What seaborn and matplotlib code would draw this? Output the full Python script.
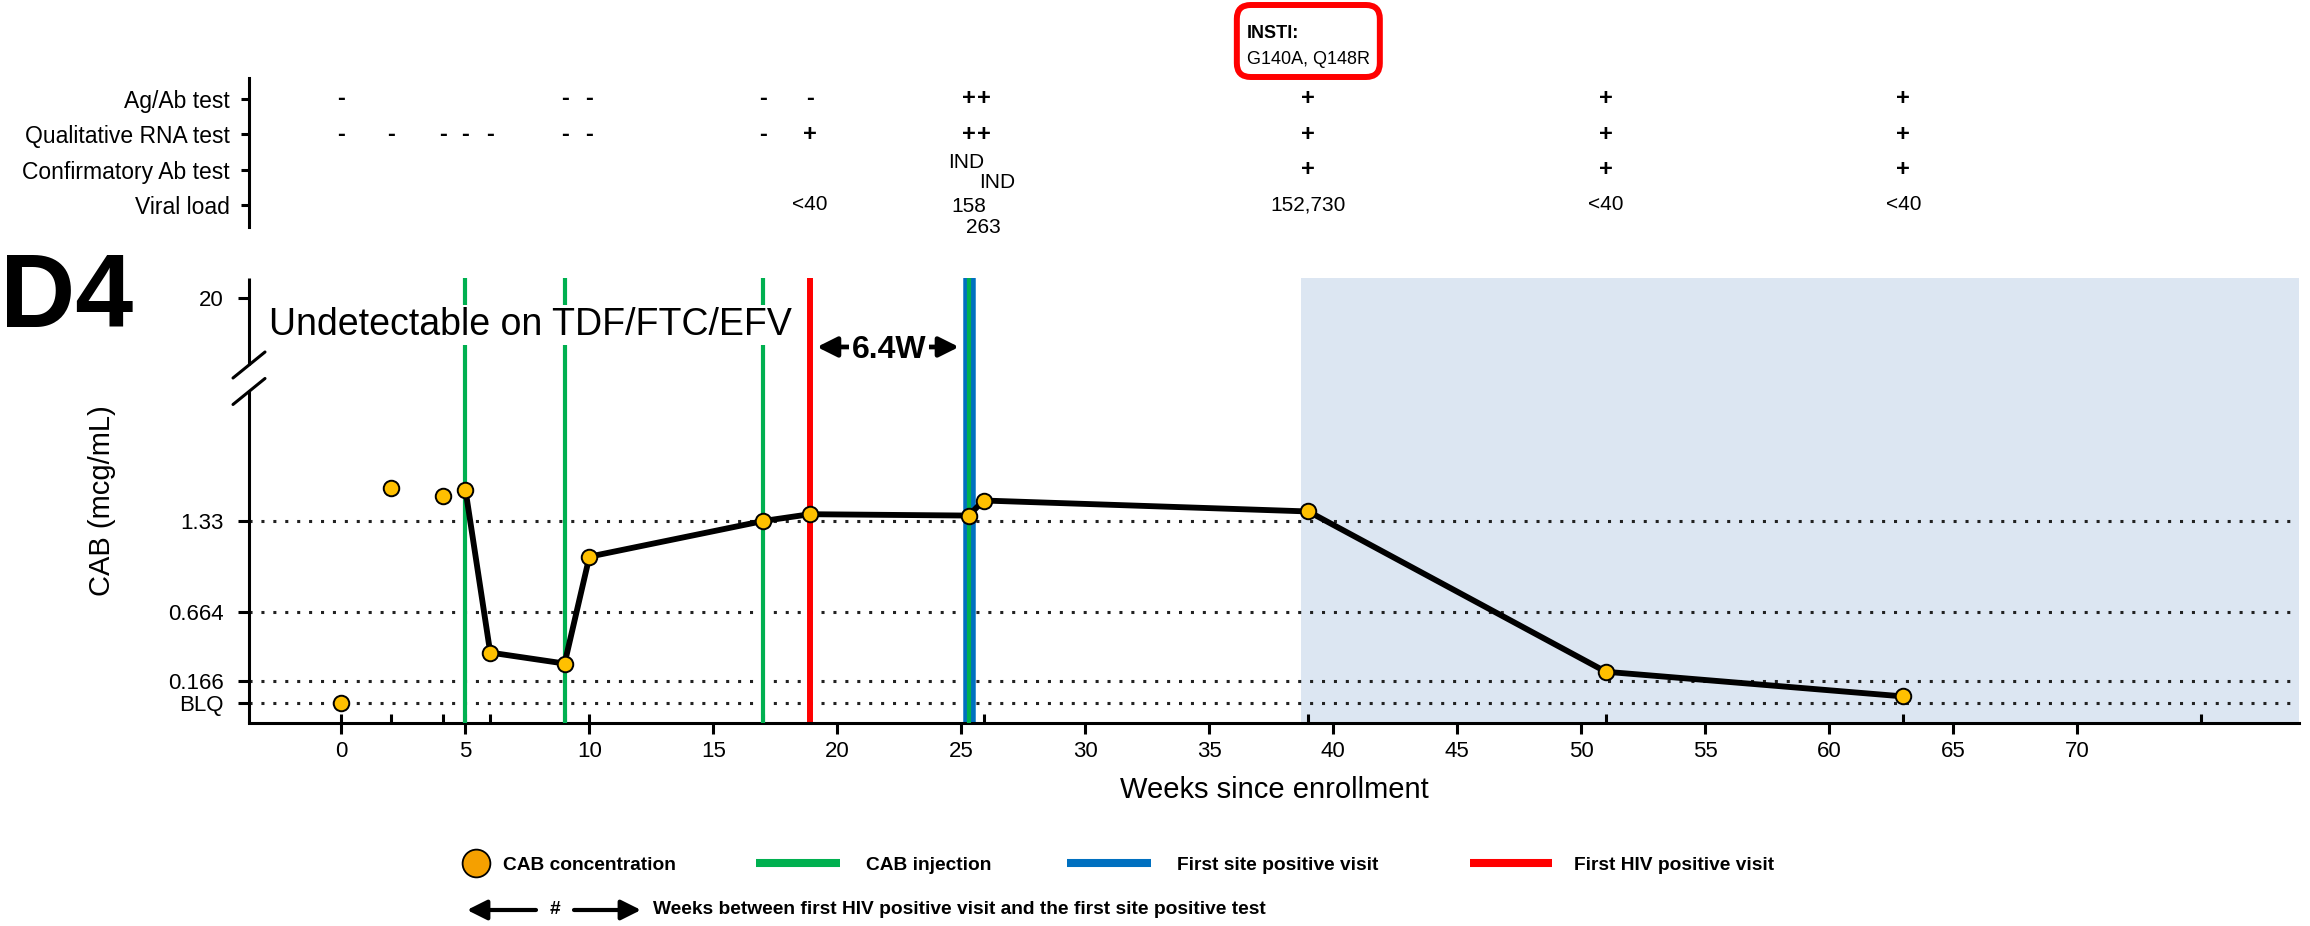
import numpy as np
import pandas as pd
import matplotlib
matplotlib.use("Agg")
import matplotlib.pyplot as plt
import matplotlib.transforms as mtransforms
from matplotlib.lines import Line2D
from matplotlib.patches import FancyArrowPatch, FancyBboxPatch
from matplotlib.ticker import NullLocator
import seaborn as sns

# ---------------- data ----------------
# CAB plasma concentration (mcg/mL) at each study visit (weeks since enrollment)
visit_weeks = [0, 2, 4.1, 5, 6, 9, 10, 17, 18.9, 25.3, 25.9, 39, 51, 63]
cab_conc = [0.0, 1.57, 1.51, 1.56, 0.37, 0.29, 1.07, 1.33, 1.38, 1.37, 1.48, 1.40, 0.23, 0.05]
first_injection_week = 5
extra_visit_weeks = [75]

injection_weeks = [5, 9, 17, 25.3]
first_hiv_positive_week = 18.9
first_site_positive_week = 25.3
resistance_week = 39
shade_start_week = 38.7

BLQ = 0.0
ref_levels = [BLQ, 0.166, 0.664, 1.33]
y_ticks = [BLQ, 0.166, 0.664, 1.33, 20]
y_tick_labels = ["BLQ", "0.166", "0.664", "1.33", "20"]
x_ticks = list(range(0, 75, 5))

# HIV test results by visit
test_rows = ["Ag/Ab test", "Qualitative RNA test", "Confirmatory Ab test", "Viral load"]
agab_weeks = [0, 9, 10, 17, 18.9, 25.3, 25.9, 39, 51, 63]
agab_results = ["-", "-", "-", "-", "-", "+", "+", "+", "+", "+"]
rna_weeks = [0, 2, 4.1, 5, 6, 9, 10, 17, 18.9, 25.3, 25.9, 39, 51, 63]
rna_results = ["-", "-", "-", "-", "-", "-", "-", "-", "+", "+", "+", "+", "+", "+"]
confirm_weeks = [25.3, 25.9, 39, 51, 63]
confirm_results = ["IND", "IND", "+", "+", "+"]
vl_weeks = [18.9, 25.3, 25.9, 39, 51, 63]
vl_results = ["<40", "158", "263", "152,730", "<40", "<40"]
resistance_label = "INSTI:"
resistance_mutations = "G140A, Q148R"

# ---------------- style ----------------
sns.set_theme(style="white")
plt.rcParams["font.family"] = ["Liberation Sans", "DejaVu Sans"]
for key in ("text.color", "axes.labelcolor", "xtick.color", "ytick.color"):
    plt.rcParams[key] = "black"

GREEN = "#00B050"
BLUE = "#0070C0"
RED = "#FF0000"
GOLD = "#FFC000"
SHADE = "#DCE6F2"

W, H = 2310, 926
fig = plt.figure(figsize=(W / 100, H / 100), dpi=100)

X_LEFT, X_RIGHT = -3.73, 78.96
ax = fig.add_axes([249 / W, 1 - 723 / H, (2299 - 249) / W, (723 - 278) / H])
ax_t = fig.add_axes([249 / W, 1 - 227 / H, (2299 - 249) / W, (227 - 78) / H])

# broken y axis: linear up to the break, strongly compressed above it
BREAK_AT = 2.2
COMPRESS = 0.0425


def fwd(v):
    v = np.asarray(v, dtype=float)
    return np.where(v <= BREAK_AT, v, BREAK_AT + (v - BREAK_AT) * COMPRESS)


def inv(p):
    p = np.asarray(p, dtype=float)
    return np.where(p <= BREAK_AT, p, BREAK_AT + (p - BREAK_AT) / COMPRESS)


df = pd.DataFrame({"week": visit_weeks, "cab": cab_conc})
df_line = df[df["week"] >= first_injection_week]

ax.axvspan(shade_start_week, X_RIGHT, color=SHADE, lw=0, zorder=0)
for lvl in ref_levels:
    ax.axhline(lvl, color="#222222", lw=2.2, ls=(0, (1, 2.9)), dash_capstyle="butt", zorder=1)

ax.axvline(first_site_positive_week, color=BLUE, lw=9, zorder=2)
ax.axvline(first_hiv_positive_week, color=RED, lw=4.3, zorder=2.5)
for w in injection_weeks:
    ax.axvline(w, color=GREEN, lw=3, zorder=2.6)

sns.lineplot(data=df_line, x="week", y="cab", color="black", lw=4.2, sort=False,
             ax=ax, zorder=4)
sns.scatterplot(data=df, x="week", y="cab", s=125, color=GOLD, edgecolor="black",
                linewidth=1.4, ax=ax, zorder=5)

ax.set_yscale("function", functions=(fwd, inv))
ax.set_ylim(-0.144, float(inv(3.104)))
ax.set_xlim(X_LEFT, X_RIGHT)
ax.set_yticks(y_ticks, y_tick_labels)
ax.yaxis.set_minor_locator(NullLocator())
ax.set_xticks(x_ticks, [str(t) for t in x_ticks])
ax.set_xticks(visit_weeks + extra_visit_weeks, minor=True)
ax.xaxis.remove_overlapping_locs = False
ax.tick_params(axis="x", which="major", direction="out", length=7.7, width=2.2,
               labelsize=16, pad=5, color="black", bottom=True)
ax.tick_params(axis="x", which="minor", direction="in", length=6.5, width=2.2,
               color="black", bottom=True)
ax.tick_params(axis="y", which="major", direction="out", length=8, width=2.2,
               labelsize=16, pad=10, color="black", left=True)

ax.set_xlabel("Weeks since enrollment", fontsize=21, labelpad=10)
ax.set_ylabel("CAB (mcg/mL)", fontsize=21)
ax.yaxis.set_label_coords(-0.065, 0.5)

for s in ["top", "right", "left"]:
    ax.spines[s].set_visible(False)
ax.spines["bottom"].set_linewidth(2.2)
ax.spines["bottom"].set_color("black")

# left spine drawn in two pieces with break marks
gap_lo, gap_hi = 0.745, 0.8045
ax.plot([0, 0], [0, gap_lo], transform=ax.transAxes, color="black", lw=2.2,
        clip_on=False, solid_capstyle="butt", zorder=6)
ax.plot([0, 0], [gap_hi, 1], transform=ax.transAxes, color="black", lw=2.2,
        clip_on=False, solid_capstyle="butt", zorder=6)
sdx, sdy = 16 / 2050, 13 / 445
for yc in (gap_lo, gap_hi):
    ax.plot([-sdx, sdx], [yc - sdy, yc + sdy], transform=ax.transAxes, color="black",
            lw=2.2, clip_on=False, zorder=6)

blend = mtransforms.blended_transform_factory(ax.transData, ax.transAxes)
ax.text(-2.93, 0.872, "Undetectable on TDF/FTC/EFV", transform=blend, fontsize=27,
        ha="left", va="baseline", zorder=7,
        bbox=dict(boxstyle="square,pad=0.06", fc="white", ec="none"))

# interval between first HIV positive visit and first site positive test
gap_weeks = first_site_positive_week - first_hiv_positive_week
mid = (first_site_positive_week + first_hiv_positive_week) / 2
arrow_y = 0.845
for end, shrink in ((first_hiv_positive_week, 5), (first_site_positive_week, 7)):
    ax.annotate("", xy=(end, arrow_y), xytext=(mid, arrow_y), xycoords=blend,
                textcoords=blend,
                arrowprops=dict(arrowstyle="-|>,head_length=0.6,head_width=0.3",
                                mutation_scale=20, lw=3.4, color="black",
                                shrinkA=0, shrinkB=shrink), zorder=7)
ax.text(mid, 0.82, f"{gap_weeks:.1f}W", transform=blend, fontsize=23, fontweight="bold",
        ha="center", va="baseline", zorder=8,
        bbox=dict(boxstyle="square,pad=0.08", fc="white", ec="none"))

# ---------------- test results table ----------------
ax_t.set_xlim(X_LEFT, X_RIGHT)
ax_t.set_ylim(3.63, -0.595)
ax_t.set_yticks(range(len(test_rows)), test_rows)
ax_t.set_xticks([])
ax_t.tick_params(axis="y", direction="out", length=6, width=2.2, labelsize=16.5, pad=8,
                 color="black", left=True)
for s in ["top", "right", "bottom"]:
    ax_t.spines[s].set_visible(False)
ax_t.spines["left"].set_linewidth(2.2)
ax_t.spines["left"].set_color("black")
ax_t.patch.set_alpha(0)

nudges = {(2, 25.3): (-2, 5), (2, 25.9): (10, -9.5), (3, 25.3): (0, -1.5), (3, 25.9): (0, -16)}
table = [(agab_weeks, agab_results), (rna_weeks, rna_results),
         (confirm_weeks, confirm_results), (vl_weeks, vl_results)]
for i, (wks, res) in enumerate(table):
    for w, r in zip(wks, res):
        sign = r in ("+", "-")
        dx, dy = nudges.get((i, w), (0, 0))
        ax_t.annotate(r, xy=(w, i), xytext=(dx, dy), textcoords="offset points",
                      ha="center", va="center", fontsize=17 if sign else 15,
                      fontweight="bold" if sign else "normal", annotation_clip=False)

# resistance call above the visit where it was found, framed in a rounded red box
blend_tf = mtransforms.blended_transform_factory(ax_t.transData, fig.transFigure)
t_mut = ax_t.text(resistance_week, 1 - 60 / H, resistance_mutations, transform=blend_tf,
                  fontsize=13, ha="center", va="center", zorder=5)
fig.canvas.draw()
mut_box = t_mut.get_window_extent()
t_lab = fig.text(mut_box.x0 / W, 1 - 33 / H, resistance_label,
                 fontsize=13, fontweight="bold", ha="left", va="center", zorder=5)
fig.canvas.draw()
lab_box = t_lab.get_window_extent()
bx0, bx1 = mut_box.x0 - 10, mut_box.x1 + 10
by0, by1 = H - 77, H - 5
fig.patches.append(FancyBboxPatch((bx0 / W, by0 / H), (bx1 - bx0) / W, (by1 - by0) / H,
                                  boxstyle="round,pad=0,rounding_size=0.006",
                                  transform=fig.transFigure, fc="none", ec=RED, lw=4.3,
                                  zorder=1, mutation_aspect=W / H))

# ---------------- panel letter and legend ----------------
fig.text(0, 1 - 327 / H, "D4", fontsize=75, fontweight="bold", ha="left", va="baseline")

legend_font = {"weight": "bold", "size": 13.8}
row1 = 1 - 865 / H


def legend_item(handle, label, x_px, hl, pad):
    fig.legend(handles=[handle], labels=[label], loc="center left",
               bbox_to_anchor=(x_px / W, row1), frameon=False, prop=legend_font,
               handlelength=hl, handletextpad=pad, borderpad=0, borderaxespad=0)


legend_item(Line2D([], [], marker="o", ls="none", markersize=20, mfc="#F5A000",
                   mec="black", mew=1.3), "CAB concentration", 457, 2.0, 0.4)
legend_item(Line2D([], [], color=GREEN, lw=5.8, solid_capstyle="butt"), "CAB injection",
            756, 4.375, 1.35)
legend_item(Line2D([], [], color=BLUE, lw=5.8, solid_capstyle="butt"),
            "First site positive visit", 1067, 4.375, 1.35)
legend_item(Line2D([], [], color=RED, lw=5.8, solid_capstyle="butt"),
            "First HIV positive visit", 1470, 4.3, 1.15)

row2 = 1 - 910 / H
for a, b in ((536, 467), (574, 641)):
    fig.patches.append(FancyArrowPatch((a / W, row2), (b / W, row2), transform=fig.transFigure,
                                       arrowstyle="-|>,head_length=0.6,head_width=0.3",
                                       mutation_scale=20, lw=3, color="black",
                                       shrinkA=0, shrinkB=0))
fig.text(555 / W, row2, "#", fontsize=13.8, fontweight="bold", ha="center", va="center")
fig.text(653 / W, row2, "Weeks between first HIV positive visit and the first site positive test",
         fontsize=13.8, fontweight="bold", ha="left", va="center")

fig.savefig("out.png", dpi=100)
